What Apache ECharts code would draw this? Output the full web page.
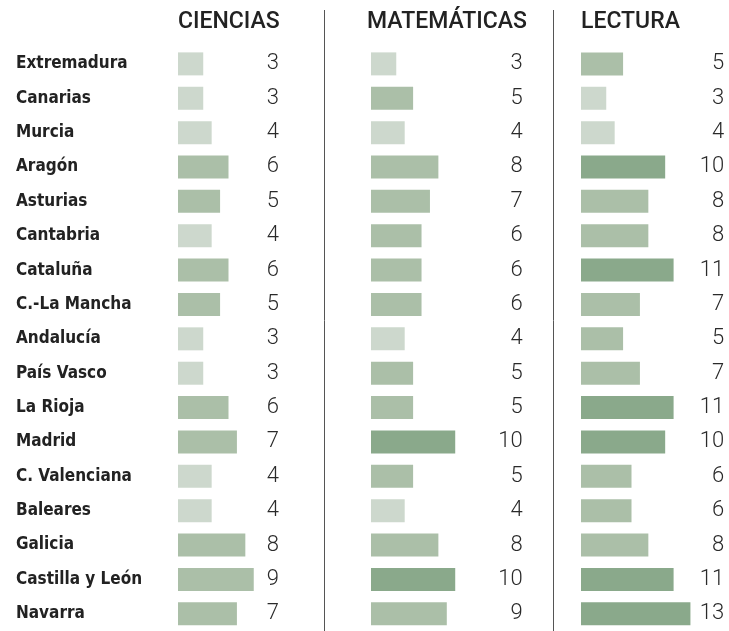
<!DOCTYPE html>
<html><head><meta charset="utf-8">
<script src="https://cdn.jsdelivr.net/npm/echarts@6/dist/echarts.min.js"></script>
<style>html,body{margin:0;padding:0;background:#fff}#c{width:729px;height:631px}</style>
</head><body><div id="c"></div>
<script>
const regions = ['Extremadura','Canarias','Murcia','Aragón','Asturias','Cantabria','Cataluña','C.-La Mancha','Andalucía','País Vasco','La Rioja','Madrid','C. Valenciana','Baleares','Galicia','Castilla y León','Navarra'];
const ciencias = [3,3,4,6,5,4,6,5,3,3,6,7,4,4,8,9,7];
const matematicas = [3,5,4,8,7,6,6,6,4,5,5,10,5,4,8,10,9];
const lectura = [5,3,4,10,8,8,11,7,5,7,11,10,6,6,8,11,13];
const headers = ['CIENCIAS','MATEMÁTICAS','LECTURA'];

const FONT = "'Liberation Sans Narrow','DejaVu Sans Condensed','Roboto',sans-serif";
const NUMFONT = "'Roboto','DejaVu Sans Condensed',sans-serif";
function col(v){ return v < 5 ? '#cdd8cd' : (v < 10 ? '#abbfa8' : '#8aa98b'); }

const panels = [
  {data: ciencias, left: 178, width: 101, max: 12, hx: 178},
  {data: matematicas, left: 371, width: 151.6, max: 18, hx: 367},
  {data: lectura, left: 581, width: 143.1, max: 17, hx: 581}
];
const gTop = 46.7, gHeight = 587.5;

const grid = [], xAxis = [], yAxis = [], series = [], graphic = [];
panels.forEach((p, i) => {
  grid.push({left: p.left, width: p.width, top: gTop, height: gHeight});
  xAxis.push({gridIndex: i, type: 'value', min: 0, max: p.max, show: false});
  yAxis.push({gridIndex: i, type: 'category', data: regions, inverse: true,
    axisLine: {show: false}, axisTick: {show: false}, splitLine: {show: false},
    axisLabel: i === 0 ? {show: true, align: 'left', margin: 162, fontFamily: FONT, fontWeight: 'bold', fontSize: 17, color: '#222'} : {show: false}
  });
  series.push({type: 'bar', xAxisIndex: i, yAxisIndex: i, barWidth: 23, silent: true,
    data: p.data.map(v => ({value: v, itemStyle: {color: col(v)}}))});
  series.push({type: 'bar', xAxisIndex: i, yAxisIndex: i, barWidth: 23, barGap: '-100%', silent: true,
    itemStyle: {color: 'rgba(0,0,0,0)'},
    data: p.data.map(() => p.max),
    label: {show: true, position: 'insideRight', distance: 0, fontFamily: NUMFONT, fontWeight: 300, fontSize: 22, color: '#2a2a2a',
      formatter: (d) => String(p.data[d.dataIndex])}});
  graphic.push({type: 'text', left: p.hx, top: 11, style: {text: headers[i], fontFamily: "'Roboto','Liberation Sans',sans-serif", fontWeight: 500, fontSize: 23, fill: '#222'}});
});
graphic.push({type: 'line', shape: {x1: 324.5, y1: 10, x2: 324.5, y2: 631}, style: {stroke: '#555', lineWidth: 1}});
graphic.push({type: 'line', shape: {x1: 553.5, y1: 10, x2: 553.5, y2: 631}, style: {stroke: '#555', lineWidth: 1}});

const chart = echarts.init(document.getElementById('c'), null, {renderer: 'canvas'});
chart.setOption({animation: false, grid, xAxis, yAxis, series, graphic});
</script></body></html>
